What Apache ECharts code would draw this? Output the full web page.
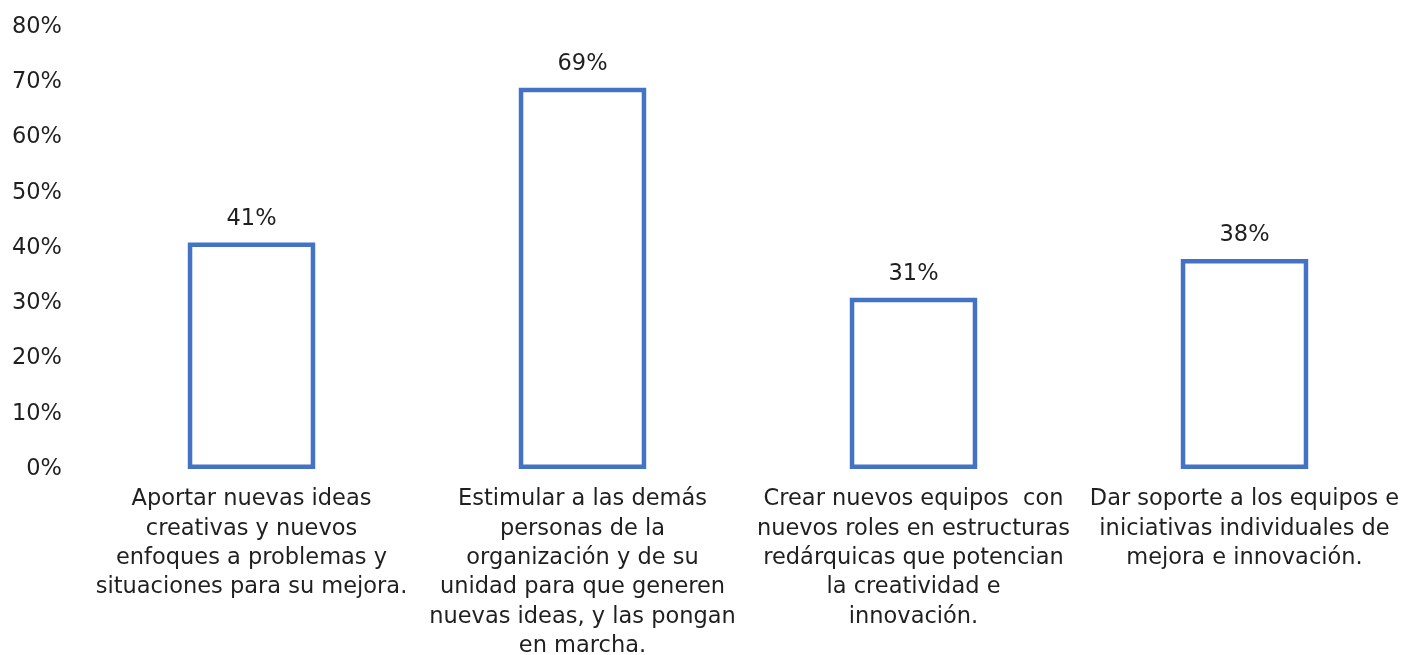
<!DOCTYPE html>
<html>
<head>
<meta charset="utf-8">
<script src="https://cdn.jsdelivr.net/npm/echarts@6/dist/echarts.min.js"></script>
<style>
  html, body { margin: 0; padding: 0; background: #fff; }
  #chart { width: 1413px; height: 655px; }
</style>
</head>
<body>
<div id="chart"></div>
<script>
// Category labels, already broken into lines
const categories = [
  'Aportar nuevas ideas\ncreativas y nuevos\nenfoques a problemas y\nsituaciones para su mejora.',
  'Estimular a las demás\npersonas de la\norganización y de su\nunidad para que generen\nnuevas ideas, y las pongan\nen marcha.',
  'Crear nuevos equipos  con\nnuevos roles en estructuras\nredárquicas que potencian\nla creatividad e\ninnovación.',
  'Dar soporte a los equipos e\niniciativas individuales de\nmejora e innovación.'
];
// Share of respondents, in percent
const values = [41, 69, 31, 38];
// Y axis range and step, in percent
const yTicks = { min: 0, max: 80, step: 10 };

const FONT = '"DejaVu Sans", sans-serif';
const TEXT = '#1f1f1f';
const BLUE = '#4472C4';
const SIZE = 22.5;

const chart = echarts.init(document.getElementById('chart'), null, { renderer: 'canvas' });
chart.setOption({
  animation: false,
  backgroundColor: '#fff',
  grid: { left: 86, right: 3, top: 27, bottom: 186, containLabel: false, outerBoundsMode: 'none' },
  xAxis: {
    type: 'category',
    data: categories,
    axisLine: { show: false },
    axisTick: { show: false },
    axisLabel: {
      interval: 0,
      margin: 16,
      color: TEXT,
      fontFamily: FONT,
      fontSize: SIZE,
      lineHeight: 29.3,
      align: 'center'
    }
  },
  yAxis: {
    type: 'value',
    min: yTicks.min,
    max: yTicks.max,
    interval: yTicks.step,
    splitLine: { show: false },
    axisLine: { show: false },
    axisTick: { show: false },
    axisLabel: {
      margin: 24,
      color: TEXT,
      fontFamily: FONT,
      fontSize: SIZE,
      formatter: v => v + '%'
    }
  },
  series: [{
    type: 'bar',
    data: values,
    barWidth: '38.5%',
    itemStyle: { color: '#fff', borderColor: BLUE, borderWidth: 4.5 },
    label: {
      show: true,
      position: 'top',
      distance: 12,
      color: TEXT,
      fontFamily: FONT,
      fontSize: SIZE,
      formatter: p => p.value + '%'
    }
  }]
});
</script>
</body>
</html>
